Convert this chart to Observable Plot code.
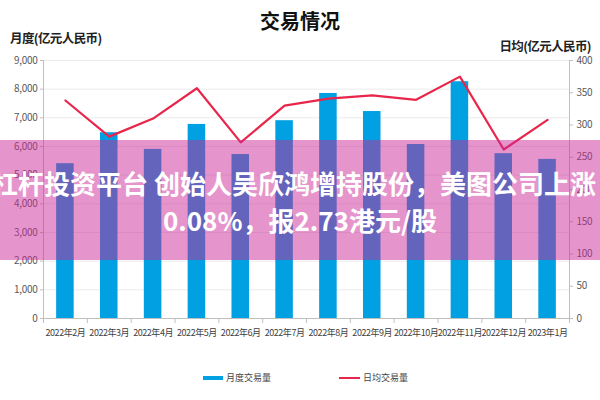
<!DOCTYPE html>
<html>
<head>
<meta charset="utf-8">
<script src="https://cdn.jsdelivr.net/npm/d3@7"></script>
<script src="https://cdn.jsdelivr.net/npm/@observablehq/plot@0.6"></script>
<style>
  html, body { margin: 0; padding: 0; background: #fff; }
  #wrap { position: relative; width: 600px; height: 400px; overflow: hidden; font-family: "Noto Sans CJK SC", "Noto Sans", sans-serif; }
  #chart { position: absolute; left: 0; top: 0; }
  #chart g[aria-label="x-axis tick label"] text { letter-spacing: -0.45px; }
  #chart g[aria-label="y-axis tick label"] text { letter-spacing: -0.3px; }
  .abs { position: absolute; white-space: nowrap; }
  #title { left: 0; width: 600px; top: 6px; text-align: center; font-size: 20px; font-weight: 700; color: #111; line-height: 30px; }
  #ylab { left: 10px; top: 30px; font-size: 12.5px; font-weight: 700; color: #222; line-height: 16px; letter-spacing: -0.6px; }
  #y2lab { right: 9px; top: 38px; font-size: 12.5px; font-weight: 700; color: #222; line-height: 16px; letter-spacing: -0.6px; }
  .leg { top: 370px; font-size: 9px; color: #444; line-height: 16px; }
  .sw { position: absolute; }
  #band { left: 0; top: 140px; width: 600px; height: 120px; background: rgba(204, 39, 151, 0.49); }
  .ov { color: #fff; font-weight: 700; font-size: 26px; line-height: 32px; }
</style>
</head>
<body>
<div id="wrap">
  <div id="chart"></div>
  <div id="title" class="abs">交易情况</div>
  <div id="ylab" class="abs">月度(亿元人民币)</div>
  <div id="y2lab" class="abs">日均(亿元人民币)</div>
  <div class="sw" style="left:203px;top:376px;width:20px;height:4px;background:#00a0e2"></div>
  <div class="abs leg" style="left:226px">月度交易量</div>
  <div class="sw" style="left:339px;top:377px;width:21px;height:2px;background:#e8264b"></div>
  <div class="abs leg" style="left:363px">日均交易量</div>
  <div id="band" class="abs"></div>
  <div class="abs ov" style="left:-8px;top:167px">杠杆投资平台 创始人吴欣鸿增持股份，美图公司上涨</div>
  <div class="abs ov" style="left:0;width:600px;text-align:center;top:204px">0.08%，报2.73港元/股</div>
</div>
<script>
const months = ["2022年2月","2022年3月","2022年4月","2022年5月","2022年6月","2022年7月","2022年8月","2022年9月","2022年10月","2022年11月","2022年12月","2023年1月"];
const monthly = [5400, 6480, 5900, 6770, 5720, 6900, 7850, 7220, 6070, 8260, 5750, 5550];
const daily = [338, 282, 310, 357, 273, 330, 341, 346, 339, 375, 262, 308];
const leftTicks = [0,1000,2000,3000,4000,5000,6000,7000,8000,9000];
const rightTicks = [0,50,100,150,200,250,300,350,400];

const leftMax = 9000, rightMax = 400;
const k = leftMax / rightMax;
const data = months.map((m, i) => ({m, i, monthly: monthly[i], daily: daily[i]}));
const tickFont = "'Liberation Sans Narrow', 'Noto Sans CJK SC', sans-serif";

const chart = Plot.plot({
  width: 600, height: 400,
  marginTop: 60, marginBottom: 82, marginLeft: 43, marginRight: 31,
  style: {fontFamily: tickFont, fontSize: "10px", color: "#595959", background: "transparent"},
  x: {type: "linear", domain: [0, months.length], axis: null},
  y: {domain: [0, leftMax], axis: null},
  marks: [
    Plot.ruleY(leftTicks.slice(1), {stroke: "#ebebeb"}),
    Plot.rectY(data, {x1: d => d.i + 0.3, x2: d => d.i + 0.7, y: "monthly", fill: "#00a0e2"}),
    Plot.line(data, {x: d => d.i + 0.5, y: d => d.daily * k, stroke: "#e8264b", strokeWidth: 2.2}),
    Plot.ruleX([0, months.length], {stroke: "#bfbfbf"}),
    Plot.ruleY([0], {stroke: "#bfbfbf"}),
    Plot.axisY(leftTicks, {anchor: "left", tickSize: 3, tickPadding: 3, stroke: "#bfbfbf", fill: "#595959", tickFormat: d3.format(","), label: null}),
    Plot.axisY(rightTicks.map(v => v * k), {anchor: "right", tickSize: 3, tickPadding: 4, stroke: "#bfbfbf", fill: "#595959", tickFormat: v => String(Math.round(v / k)), label: null}),
    Plot.axisX(d3.range(0, months.length + 1), {anchor: "bottom", tickSize: 5, stroke: "#bfbfbf", tickFormat: () => "", label: null}),
    Plot.axisX(data.map(d => d.i + 0.5), {anchor: "bottom", tickSize: 0, tickPadding: 11, fill: "#404040", fontSize: 9, tickFormat: v => months[Math.round(v - 0.5)], label: null})
  ]
});
document.getElementById("chart").appendChild(chart);
</script>
</body>
</html>
